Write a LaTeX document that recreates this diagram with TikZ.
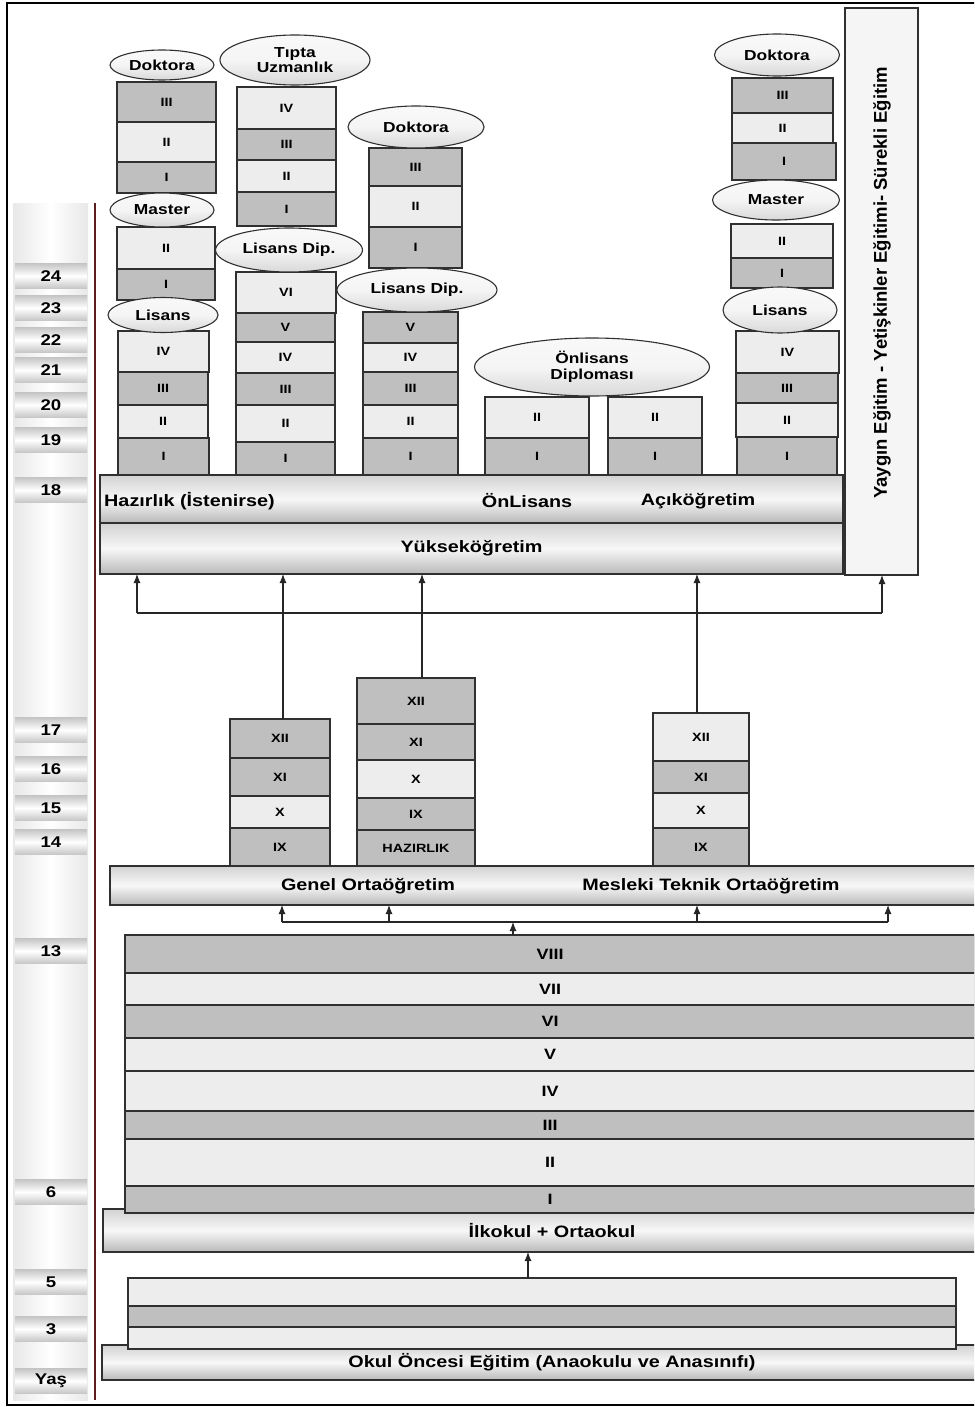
\documentclass[tikz,border=0pt]{standalone}
\usepackage{fontspec}
\setmainfont{Liberation Sans}
\newfontfamily\labfont[FakeStretch=1.2]{Liberation Sans}
\usetikzlibrary{shapes.geometric,arrows.meta,calc}
\definecolor{dk}{HTML}{BFBFBF}
\definecolor{lt}{HTML}{EDEDED}
\definecolor{edge}{HTML}{303030}
\definecolor{agered}{HTML}{5A1E1E}
\newcommand{\mkcell}[7]{\node[#2, minimum width={#5-#3}, minimum height={#6-#4}] (#1) at ({(#3+#5)/2},{(#4+#6)/2}) {#7};}
\newcommand{\mkell}[6]{\node[ell, minimum width=#4, minimum height=#5] (#1) at (#2,#3) {#6};}
\begin{document}
\begin{tikzpicture}[x=1pt,y=-1pt,
  cellbox/.style={draw=edge, line width=1.4pt, rectangle, inner sep=0pt, outer sep=0pt, font=\labfont\bfseries\fontsize{12}{14}\selectfont},
  dkc/.style={cellbox, fill=dk},
  ltc/.style={cellbox, fill=lt},
  pdk/.style={dkc, font=\labfont\bfseries\fontsize{15}{17}\selectfont},
  plt/.style={ltc, font=\labfont\bfseries\fontsize{15}{17}\selectfont},
  ell/.style={ellipse, draw=edge, line width=1.1pt, inner sep=0pt, top color=gray!5, bottom color=gray!30, middle color=gray!8, font=\labfont\bfseries\fontsize{14.5}{15.5}\selectfont, align=center},
  bandc/.style={draw=edge, line width=1.4pt, rectangle, inner sep=0pt, outer sep=0pt, top color=gray!35, bottom color=gray!55, middle color=gray!6, font=\labfont\bfseries\fontsize{16.5}{18}\selectfont},
  bandtxt/.style={font=\labfont\bfseries\fontsize{16.5}{18}\selectfont, inner sep=0pt},
  yaybox/.style={draw=edge, line width=1.6pt, rectangle, inner sep=0pt, outer sep=0pt, fill=gray!8},
  agetab/.style={rectangle, inner sep=0pt, minimum width=72pt, minimum height=25pt, top color=gray!45, bottom color=gray!45, middle color=white, font=\labfont\bfseries\fontsize{15.5}{17}\selectfont},
  arr/.style={-{Latex[length=9pt,width=7pt]}, line width=1.1pt, draw=black!85},
  ln/.style={line width=1.1pt, draw=black!85}]
\useasboundingbox (0,0) rectangle (974,1407);
\clip (0,0) rectangle (974,1407);
\fill[white] (0,0) rectangle (974,1407);
% frame
\draw[line width=2.5pt] (980,3) -- (7,3) -- (7,1405) -- (980,1405);
% age column
\node[rectangle, inner sep=0pt, minimum width=75pt, minimum height=1197pt, left color=gray!18, right color=gray!18, middle color=white] (agecol) at (50.5,801.5) {};
\draw[agered, line width=2pt] (95,203) -- (95,1400);
\foreach \n/\a/\y in {a24/24/276, a23/23/308, a22/22/340, a21/21/370, a20/20/405, a19/19/440, a18/18/490, a17/17/730, a16/16/769, a15/15/808, a14/14/842, a13/13/951, a6/6/1192, a5/5/1282, a3/3/1329, ayas/Yaş/1381}
  \node[agetab] (\n) at (51,\y) {\a};
% column 1
\mkcell{c1d3}{dkc}{117}{82}{216}{122}{III}
\mkcell{c1d2}{ltc}{117}{122}{216}{162}{II}
\mkcell{c1d1}{dkc}{117}{162}{216}{193}{I}
\mkcell{c1m2}{ltc}{117}{227}{215}{269}{II}
\mkcell{c1m1}{dkc}{117}{269}{215}{300}{I}
\mkcell{c1l4}{ltc}{118}{331}{209}{372}{IV}
\mkcell{c1l3}{dkc}{118}{372}{208}{405}{III}
\mkcell{c1l2}{ltc}{118}{405}{208}{438}{II}
\mkcell{c1l1}{dkc}{118}{438}{209}{475}{I}
\mkell{c1doc}{162}{65}{104}{30}{Doktora}
\mkell{c1mas}{162}{210}{104}{34}{Master}
\mkell{c1lis}{163}{315}{110}{35}{Lisans}
% column 2
\mkcell{c2t4}{ltc}{237}{87}{336}{129}{IV}
\mkcell{c2t3}{dkc}{237}{129}{336}{160}{III}
\mkcell{c2t2}{ltc}{237}{160}{336}{192}{II}
\mkcell{c2t1}{dkc}{237}{192}{336}{226}{I}
\mkcell{c2l6}{ltc}{236}{272}{336}{313}{VI}
\mkcell{c2l5}{dkc}{236}{313}{335}{342}{V}
\mkcell{c2l4}{ltc}{236}{342}{335}{373}{IV}
\mkcell{c2l3}{dkc}{236}{373}{335}{405}{III}
\mkcell{c2l2}{ltc}{236}{405}{335}{442}{II}
\mkcell{c2l1}{dkc}{236}{442}{335}{475}{I}
\mkell{c2tip}{295}{60}{150}{50}{Tıpta\\Uzmanlık}
\mkell{c2dip}{289}{250}{147}{44}{Lisans Dip.}
% column 3
\mkcell{c3d3}{dkc}{369}{148}{462}{186}{III}
\mkcell{c3d2}{ltc}{369}{186}{462}{227}{II}
\mkcell{c3d1}{dkc}{369}{227}{462}{268}{I}
\mkcell{c3l5}{dkc}{363}{312}{458}{343}{V}
\mkcell{c3l4}{ltc}{363}{343}{458}{372}{IV}
\mkcell{c3l3}{dkc}{363}{372}{458}{405}{III}
\mkcell{c3l2}{ltc}{363}{405}{458}{438}{II}
\mkcell{c3l1}{dkc}{363}{438}{458}{475}{I}
\mkell{c3doc}{416}{127}{136}{42}{Doktora}
\mkell{c3dip}{417}{290}{160}{44}{Lisans Dip.}
% column 4
\mkcell{c4a2}{ltc}{485}{397}{589}{438}{II}
\mkcell{c4a1}{dkc}{485}{438}{589}{475}{I}
\mkcell{c4b2}{ltc}{608}{397}{702}{438}{II}
\mkcell{c4b1}{dkc}{608}{438}{702}{475}{I}
\mkell{c4onl}{592}{367}{235}{58}{Önlisans\\Diploması}
% column 5
\mkcell{c5d3}{dkc}{732}{78}{833}{113}{III}
\mkcell{c5d2}{ltc}{732}{113}{833}{143}{II}
\mkcell{c5d1}{dkc}{732}{143}{836}{180}{I}
\mkcell{c5m2}{ltc}{731}{224}{833}{258}{II}
\mkcell{c5m1}{dkc}{731}{258}{833}{288}{I}
\mkcell{c5l4}{ltc}{736}{331}{839}{373}{IV}
\mkcell{c5l3}{dkc}{736}{373}{838}{403}{III}
\mkcell{c5l2}{ltc}{736}{403}{838}{437}{II}
\mkcell{c5l1}{dkc}{737}{437}{837}{475}{I}
\mkell{c5doc}{777}{55}{125}{42}{Doktora}
\mkell{c5mas}{776}{200}{127}{40}{Master}
\mkell{c5lis}{780}{310}{114}{46}{Lisans}
% higher education bands
\mkcell{haz}{bandc}{100}{475}{843}{523}{}
\node[bandtxt, anchor=west] (hazt) at (104,501) {Hazırlık (İstenirse)};
\node[bandtxt] (onlt) at (527,501) {ÖnLisans};
\node[bandtxt] (acikt) at (698,501) {Açıköğretim};
\mkcell{yuk}{bandc}{100}{523}{843}{574}{Yükseköğretim}
\mkcell{yay}{yaybox}{845}{8}{918}{575}{}
\node[rotate=90, inner sep=0pt, font=\bfseries\fontsize{18.5}{20}\selectfont] (yayt) at (882,283) {Yaygın Eğitim - Yetişkinler Eğitimi- Sürekli Eğitim};
% secondary stacks
\mkcell{sA12}{dkc}{230}{719}{330}{758}{XII}
\mkcell{sA11}{dkc}{230}{758}{330}{796}{XI}
\mkcell{sA10}{ltc}{230}{796}{330}{828}{X}
\mkcell{sA9}{dkc}{230}{828}{330}{866}{IX}
\mkcell{sB12}{dkc}{357}{678}{475}{724}{XII}
\mkcell{sB11}{dkc}{357}{724}{475}{760}{XI}
\mkcell{sB10}{ltc}{357}{760}{475}{798}{X}
\mkcell{sB9}{dkc}{357}{798}{475}{830}{IX}
\mkcell{sBh}{dkc}{357}{830}{475}{866}{HAZIRLIK}
\mkcell{sC12}{ltc}{653}{713}{749}{761}{XII}
\mkcell{sC11}{dkc}{653}{761}{749}{793}{XI}
\mkcell{sC10}{ltc}{653}{793}{749}{828}{X}
\mkcell{sC9}{dkc}{653}{828}{749}{866}{IX}
\mkcell{gen}{bandc}{110}{866}{1000}{905}{}
\node[bandtxt] (gent) at (368,886) {Genel Ortaöğretim};
\node[bandtxt] (mest) at (711,886) {Mesleki Teknik Ortaöğretim};
% primary
\mkcell{ilk}{bandc}{103}{1209}{1001}{1252}{İlkokul + Ortaokul}
\mkcell{p8}{pdk}{125}{935}{975}{973}{VIII}
\mkcell{p7}{plt}{125}{973}{975}{1005}{VII}
\mkcell{p6}{pdk}{125}{1005}{975}{1038}{VI}
\mkcell{p5}{plt}{125}{1038}{975}{1071}{V}
\mkcell{p4}{plt}{125}{1071}{975}{1111}{IV}
\mkcell{p3}{pdk}{125}{1111}{975}{1139}{III}
\mkcell{p2}{plt}{125}{1139}{975}{1186}{II}
\mkcell{p1}{pdk}{125}{1186}{975}{1213}{I}
% preschool
\mkcell{okul}{bandc}{102}{1345}{1002}{1380}{Okul Öncesi Eğitim (Anaokulu ve Anasınıfı)}
\mkcell{k3}{ltc}{128}{1278}{956}{1306}{}
\mkcell{k2}{dkc}{128}{1306}{956}{1327}{}
\mkcell{k1}{ltc}{128}{1327}{956}{1349}{}
% arrows to higher education
\coordinate (yb1) at (137,613);
\coordinate (yb2) at (882,613);
\draw[ln] (yb1) -- (yb2);
\draw[arr] (yb1) -- (yb1 |- yuk.south);
\draw[arr] (yb2) -- (yb2 |- yay.south);
\coordinate (sAtop) at ([xshift=3pt]sA12.north);
\coordinate (sBtop) at ([xshift=6pt]sB12.north);
\coordinate (sCtop) at ([xshift=-4pt]sC12.north);
\draw[arr] (sAtop) -- (sAtop |- yuk.south);
\draw[arr] (sBtop) -- (sBtop |- yuk.south);
\draw[arr] (sCtop) -- (sCtop |- yuk.south);
% arrows to secondary
\coordinate (g1) at (282,922);
\coordinate (g2) at (389,922);
\coordinate (g3) at (697,922);
\coordinate (g4) at (888,922);
\coordinate (gm) at (513,922);
\draw[ln] (g1) -- (g4);
\foreach \c in {g1,g2,g3,g4} \draw[arr] (\c) -- (\c |- gen.south);
\draw[arr] (gm |- p8.north) -- (gm);
% arrow to primary
\coordinate (ka) at (528,1278);
\draw[arr] (ka) -- (ka |- ilk.south);
\end{tikzpicture}
\end{document}
